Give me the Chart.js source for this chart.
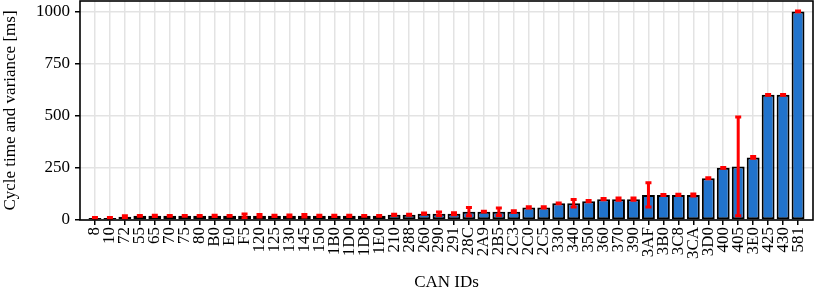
<!DOCTYPE html>
<html>
<head>
<meta charset="utf-8">
<script src="https://cdn.jsdelivr.net/npm/chart.js@4/dist/chart.umd.min.js"></script>
<style>
  html, body { margin: 0; padding: 0; background: #fff; }
  #wrap { width: 814px; height: 295px; }
</style>
</head>
<body>
<div id="wrap"><canvas id="cycleChart" width="814" height="295"></canvas></div>
<script>
const canIds = ['8', '10', '72', '55', '65', '70', '75', '80', 'B0', 'E0', 'F5', '120', '125', '130', '145', '150',
  '1B0', '1D0', '1D8', '1E0', '210', '288', '260', '290', '291', '28C', '2A9', '2B5', '2C3', '2C0', '2C5',
  '330', '340', '350', '360', '370', '390', '3AF', '3B0', '3C8', '3CA', '3D0', '400', '405', '3E0', '425', '430', '581'];

const cycleTimes = [10, 10, 15, 20, 20, 20, 20, 20, 20, 20, 20, 20, 20, 20, 20, 20,
  20, 20, 20, 20, 25, 25, 30, 30, 30, 40, 40, 40, 40, 60, 60,
  80, 80, 90, 100, 100, 100, 120, 120, 120, 120, 200, 250, 257, 300, 600, 600, 1000];

const variances = [2, 2, 5, 2, 3, 2, 2, 2, 3, 2, 9, 6, 3, 4, 6, 3,
  3, 3, 2, 2, 3, 2, 3, 8, 5, 20, 2, 18, 4, 3, 3,
  2, 18, 3, 3, 5, 5, 58, 2, 3, 5, 2, 2, 237, 4, 2, 2, 2];

const yTicks = [0, 250, 500, 750, 1000];

const FONT = 'Liberation Serif';

// Red error bars, drawn on top of the bars using the chart scales
const errorBarPlugin = {
  id: 'errorBars',
  afterDatasetsDraw(chart) {
    const { ctx, scales: { x, y } } = chart;
    ctx.save();
    ctx.strokeStyle = '#ff0000';
    ctx.lineWidth = 3;
    cycleTimes.forEach((v, i) => {
      const px = x.getPixelForValue(i);
      const top = y.getPixelForValue(v + variances[i]);
      const bot = y.getPixelForValue(v - variances[i]);
      ctx.beginPath();
      ctx.moveTo(px, top);
      ctx.lineTo(px, bot);
      ctx.moveTo(px - 3, top);
      ctx.lineTo(px + 3, top);
      ctx.moveTo(px - 3, bot);
      ctx.lineTo(px + 3, bot);
      ctx.stroke();
    });
    ctx.restore();
  }
};

// Black frame round the plot area
const framePlugin = {
  id: 'frame',
  afterDraw(chart) {
    const { ctx, chartArea: { left, right, top, bottom } } = chart;
    ctx.save();
    ctx.strokeStyle = '#000';
    ctx.lineWidth = 1.6;
    ctx.strokeRect(left, top, right - left, bottom - top);
    ctx.restore();
  }
};

const inRange = v => v >= 0 && v < canIds.length;

new Chart(document.getElementById('cycleChart').getContext('2d'), {
  type: 'bar',
  data: {
    datasets: [{
      data: cycleTimes.map((v, i) => ({ x: i, y: v })),
      backgroundColor: '#2173cc',
      borderColor: '#000',
      borderWidth: 2,
      borderSkipped: false,
      barPercentage: 0.86,
      categoryPercentage: 1
    }]
  },
  options: {
    responsive: false,
    animation: false,
    layout: { padding: { top: 1, right: 1 } },
    plugins: {
      legend: { display: false },
      tooltip: { enabled: false }
    },
    scales: {
      x: {
        type: 'linear',
        min: -1,
        max: canIds.length,
        offset: false,
        afterFit: s => {
          s.height = 75;
          s.paddingLeft = 0;
          s.paddingRight = 0;
        },
        ticks: {
          stepSize: 1,
          autoSkip: false,
          minRotation: 90,
          maxRotation: 90,
          padding: 2,
          color: '#000',
          font: { family: FONT, size: 17 },
          callback: v => inRange(v) ? canIds[v] : ''
        },
        grid: {
          offset: false,
          color: ctx => inRange(ctx.tick.value) ? '#e3e3e3' : 'rgba(0,0,0,0)',
          tickColor: ctx => inRange(ctx.tick.value) ? '#000' : 'rgba(0,0,0,0)',
          lineWidth: 1.5,
          tickWidth: 1.5,
          tickLength: 5
        },
        border: { display: false },
        title: {
          display: true,
          text: 'CAN IDs',
          color: '#000',
          font: { family: FONT, size: 17 },
          padding: { top: 0, bottom: 2 }
        }
      },
      y: {
        min: 0,
        max: 1050,
        afterFit: s => {
          s.width = 80;
          s.paddingTop = 0;
          s.paddingBottom = 0;
        },
        afterBuildTicks: s => { s.ticks = yTicks.map(v => ({ value: v })); },
        ticks: {
          padding: 5,
          color: '#000',
          font: { family: FONT, size: 17 },
          callback: v => String(v)
        },
        grid: {
          color: '#e3e3e3',
          tickColor: '#000',
          lineWidth: 1.5,
          tickWidth: 1.5,
          tickLength: 5
        },
        border: { display: false },
        title: {
          display: true,
          text: 'Cycle time and variance [ms]',
          color: '#000',
          font: { family: FONT, size: 17 },
          padding: { top: 0, bottom: 0 }
        }
      }
    }
  },
  plugins: [errorBarPlugin, framePlugin]
});
</script>
</body>
</html>
